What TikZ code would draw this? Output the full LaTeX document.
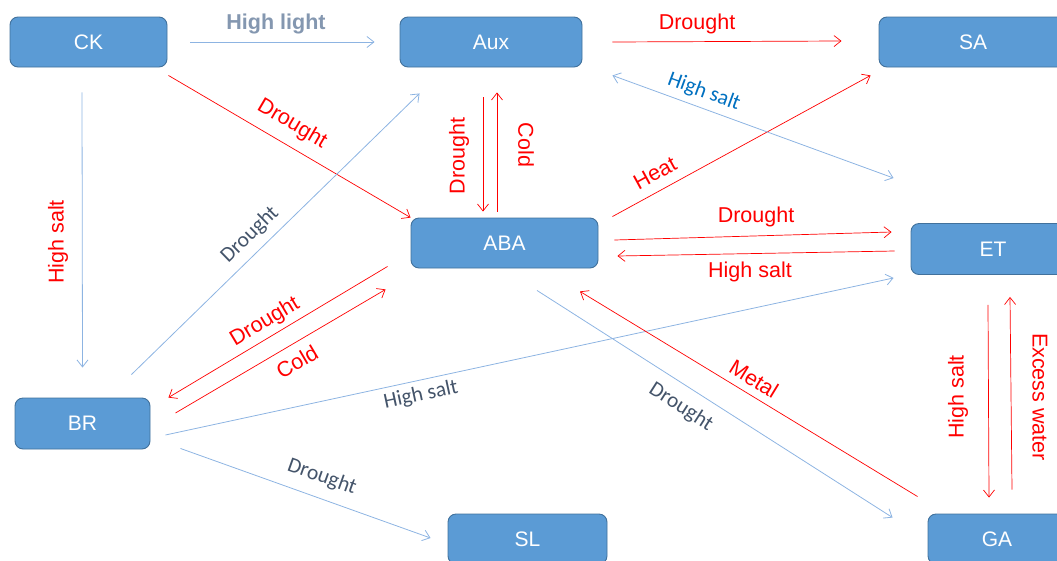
\documentclass[tikz,border=0pt]{standalone}
\usepackage{fontspec}
\setmainfont{Liberation Sans}
\newfontfamily\calfont{Carlito}
\usetikzlibrary{arrows.meta,calc}
\definecolor{boxfill}{HTML}{5B9BD5}
\definecolor{boxdraw}{HTML}{41719C}
\definecolor{lineblue}{HTML}{8DB4E2}
\definecolor{darklbl}{HTML}{44546A}
\definecolor{bluelbl}{HTML}{0070C0}
\definecolor{graylbl}{HTML}{8497B0}
\begin{document}
\begin{tikzpicture}[x=1pt,y=-1pt,
  >={Straight Barb[length=7pt,width=11pt]},
  box/.style={draw=boxdraw, fill=boxfill, rounded corners=8pt, line width=0.9pt,
    text=white, font=\fontsize{21}{24}\selectfont, inner sep=0pt, minimum height=50pt},
  redarr/.style={draw=red, line width=0.7pt, ->},
  bluearr/.style={draw=lineblue, line width=0.8pt, ->},
  redlbl/.style={text=red, font=\fontsize{21.5}{24}\selectfont, inner sep=0pt},
  darklbl/.style={text=darklbl, font=\calfont\fontsize{21.5}{24}\selectfont, inner sep=0pt},
  bluelbl/.style={text=bluelbl, font=\calfont\fontsize{21.5}{24}\selectfont, inner sep=0pt},
]
\useasboundingbox (0,0) rectangle (1057,560);

% nodes
\node[box, minimum width=157pt] (CK)  at (88.5,42)   {CK};
\node[box, minimum width=182pt] (Aux) at (491,42)    {Aux};
\node[box, minimum width=188pt] (SA)  at (973,42)    {SA};
\node[box, minimum width=187pt] (ABA) at (504.5,243) {ABA};
\node[box, minimum width=164pt, minimum height=51pt] (ET) at (993,249) {ET};
\node[box, minimum width=135pt, minimum height=51pt] (BR) at (82.5,423.5) {BR};
\node[box, minimum width=159pt] (SL)  at (527.5,539) {SL};
\node[box, minimum width=138pt] (GA)  at (997,539)   {GA};

% connectors
\draw[bluearr] ($(CK.east)+(23,0)$) -- ($(Aux.west)+(-25,0)$);
\draw[redarr]  ($(Aux.east)+(30,0)$) -- ($(SA.west)+(-37,-1)$);
\draw[redarr]  ($(CK.south east)+(1,8)$) -- ($(ABA.north west)+(0,0)$);
\draw[bluearr] ($(CK.south)+(-6.5,25)$) -- ($(BR.north)+(0,-30)$);
\draw[bluearr] ($(BR.north east)+(-19,-23)$) -- ($(Aux.south west)+(20,26)$);
\draw[redarr]  ($(Aux.south)+(-8,30)$) -- ($(ABA.north)+(-21.5,-6)$);
\draw[redarr]  ($(ABA.north)+(-7.5,-6)$) -- ($(Aux.south)+(6,25)$);
\draw[redarr]  ($(ABA.north east)+(14,-1)$) -- ($(SA.south west)+(-8,8)$);
\draw[bluearr,<->] ($(Aux.south east)+(30,8)$) -- ($(ET.north west)+(-17,-45)$);
\draw[redarr]  ($(ABA.east)+(16,-3)$) -- ($(ET.west)+(-19,-17)$);
\draw[redarr]  ($(ET.west)+(-16,2)$) -- ($(ABA.east)+(19,13)$);
\draw[redarr]  ($(ABA.south west)+(-23,-2)$) -- ($(BR.north east)+(18,0)$);
\draw[redarr]  ($(BR.east)+(25,-10.5)$) -- ($(ABA.south west)+(-25,21)$);
\draw[bluearr] ($(BR.east)+(15,11.5)$) -- ($(ET.south west)+(-17,3)$);
\draw[bluearr] ($(BR.south east)+(30,-1)$) -- ($(SL.west)+(-17,-1)$);
\draw[bluearr] ($(ABA.south)+(32.5,22)$) -- ($(GA.north west)+(-35,4)$);
\draw[redarr]  ($(GA.north west)+(-10,-17)$) -- ($(ABA.south)+(75.5,23)$);
\draw[redarr]  ($(ET.south)+(-5,30)$) -- ($(GA.north)+(-8,-16)$);
\draw[redarr]  ($(GA.north)+(15,-24)$) -- ($(ET.south)+(17,22)$);

% labels
\node[inner sep=0pt, text=graylbl, font=\bfseries\fontsize{21.5}{24}\selectfont] (l1) at (276,24) {High light};
\node[redlbl] (l2) at (697,24) {Drought};
\node[redlbl, rotate=-30.5] (l3) at (292,124) {Drought};
\node[redlbl, rotate=90] (l4) at (58,242) {High salt};
\node[darklbl, rotate=44.3] (l5) at (250,235) {Drought};
\node[redlbl, rotate=90] (l6) at (459,156) {Drought};
\node[redlbl, rotate=-90] (l7) at (526,145) {Cold};
\node[redlbl, rotate=28.7] (l8) at (655,173) {Heat};
\node[bluelbl, rotate=-20] (l9) at (704,92) {High salt};
\node[redlbl] (l10) at (756,217) {Drought};
\node[redlbl] (l11) at (750,272) {High salt};
\node[redlbl, rotate=31] (l12) at (265,322) {Drought};
\node[redlbl, rotate=30.5] (l13) at (297,362) {Cold};
\node[darklbl, rotate=12.2] (l14) at (421,395) {High salt};
\node[darklbl, rotate=-19.7] (l15) at (322,477) {Drought};
\node[darklbl, rotate=-32.6] (l16) at (681,407) {Drought};
\node[redlbl, rotate=-31.5] (l17) at (754,379) {Metal};
\node[redlbl, rotate=90] (l18) at (958,397) {High salt};
\node[redlbl, rotate=-90] (l19) at (1040,397) {Excess water};
\end{tikzpicture}
\end{document}
